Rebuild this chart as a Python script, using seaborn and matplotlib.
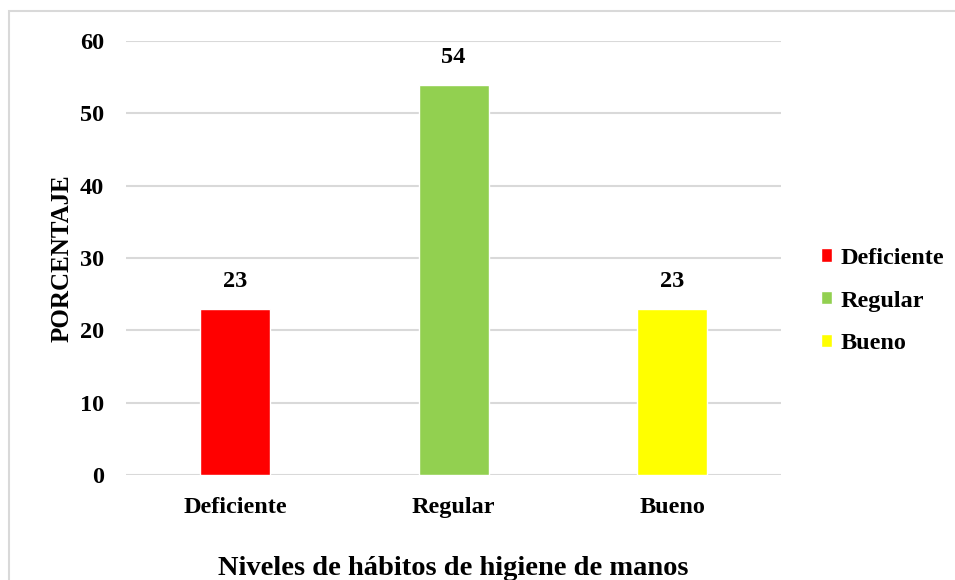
import matplotlib
matplotlib.use("Agg")
import matplotlib.pyplot as plt
import seaborn as sns
from matplotlib.patches import Rectangle

# Data
categories = ["Deficiente", "Regular", "Bueno"]
values = [23, 54, 23]
colors = ["#FF0000", "#92D050", "#FFFF00"]
y_ticks = [0, 10, 20, 30, 40, 50, 60]

sns.set_theme(style="white")
plt.rcParams['font.family'] = ['Liberation Serif', 'DejaVu Serif']
plt.rcParams['font.weight'] = 'bold'
plt.rcParams['text.color'] = 'black'

fig = plt.figure(figsize=(9.55, 5.8), dpi=100)
ax = fig.add_axes([0.132, 0.181, 0.686, 0.748])

sns.barplot(x=categories, y=values, hue=categories, palette=colors,
            width=0.32, dodge=False, legend=True, saturation=1, ax=ax)

# Value labels above bars
for cont in ax.containers:
    ax.bar_label(cont, fmt='%d', padding=12, fontsize=17.5, fontweight='bold', color='black')

# Axes styling
ax.set_ylim(0, 60)
ax.set_yticks(y_ticks)
ax.yaxis.grid(True, color='#D9D9D9', linewidth=1.5)
ax.set_axisbelow(True)
for s in ['top', 'right', 'left', 'bottom']:
    ax.spines[s].set_visible(False)
ax.tick_params(axis='both', length=0, labelsize=17.5, colors='black')
ax.tick_params(axis='y', pad=16)
ax.tick_params(axis='x', pad=16)
for lab in ax.get_xticklabels() + ax.get_yticklabels():
    lab.set_fontweight('bold')

ax.set_ylabel("PORCENTAJE", fontsize=18, fontweight='bold', color='black', labelpad=4)
ax.set_xlabel("Niveles de hábitos de higiene de manos", fontsize=20.5,
              fontweight='bold', color='black', labelpad=27)

# Legend on the right
handles, labels = ax.get_legend_handles_labels()
leg = ax.legend(handles, labels, loc='center left', bbox_to_anchor=(0.850, 0.481),
                bbox_transform=fig.transFigure, frameon=False,
                prop={'family': 'Liberation Serif', 'weight': 'bold', 'size': 17.5},
                handlelength=0.45, handleheight=0.45, handletextpad=0.35,
                labelspacing=0.9, borderaxespad=0)
for t in leg.get_texts():
    t.set_color('black')

# Light grey chart-area border
fig.patches.append(Rectangle((9 / 955, -0.05), 1.0, 1 - 11 / 580 + 0.05,
                             transform=fig.transFigure, fill=False,
                             edgecolor='#D9D9D9', linewidth=1.5, clip_on=False))

fig.savefig("out.png", dpi=100)
